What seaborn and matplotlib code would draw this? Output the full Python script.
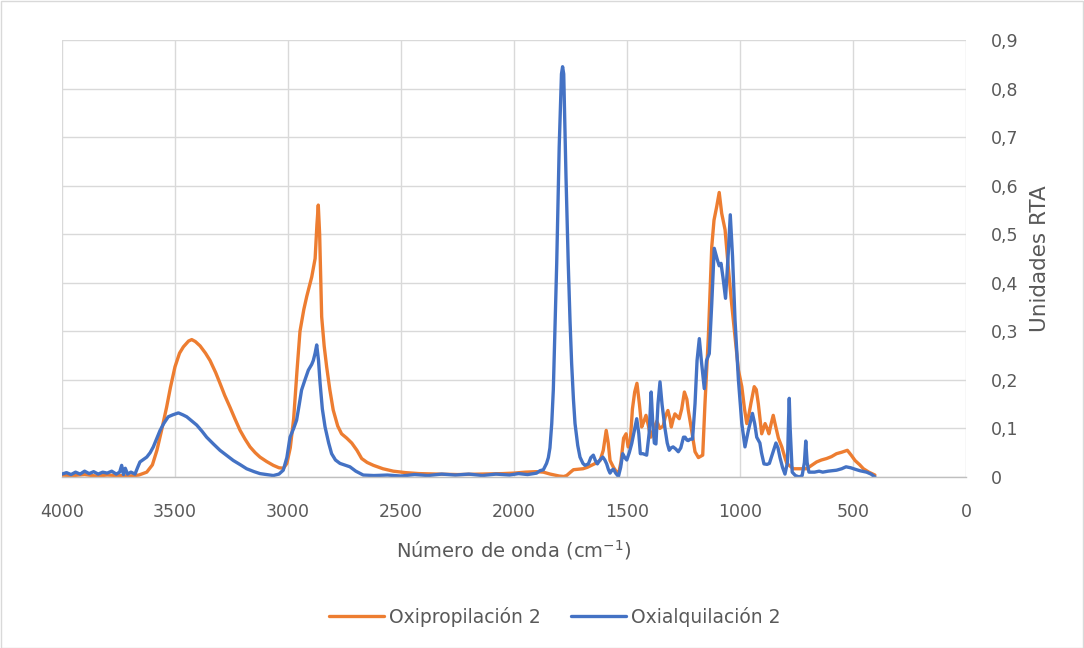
import numpy as np
import pandas as pd
import seaborn as sns
import matplotlib
matplotlib.use("Agg")
import matplotlib.pyplot as plt
from matplotlib.lines import Line2D
from matplotlib.patches import Rectangle

# FTIR spectra (wavenumber in cm-1, absorbance in RTA units)
oxiprop_wn = [4000, 3950, 3900, 3850, 3800, 3750, 3700, 3660, 3625, 3600, 3580, 3560,
              3537, 3520, 3500, 3480, 3463, 3440, 3426, 3410, 3389, 3365, 3345, 3320,
              3301, 3280, 3257, 3235, 3212, 3190, 3168, 3145, 3124, 3095, 3065, 3040,
              3020, 3005, 2990, 2975, 2960, 2947, 2930, 2917, 2895, 2880, 2872, 2866,
              2860, 2851, 2840, 2829, 2815, 2800, 2780, 2763, 2740, 2718, 2695, 2674,
              2650, 2622, 2580, 2534, 2480, 2420, 2327, 2250, 2150, 2050, 2000, 1950,
              1900, 1870, 1840, 1800, 1780, 1767, 1750, 1737, 1715, 1695, 1675, 1658,
              1640, 1619, 1605, 1592, 1583, 1575, 1560, 1546, 1535, 1527, 1515, 1504,
              1495, 1487, 1476, 1466, 1456, 1445, 1435, 1425, 1416, 1405, 1395, 1385,
              1368, 1355, 1340, 1330, 1319, 1310, 1304, 1296, 1288, 1278, 1269, 1258,
              1246, 1235, 1229, 1214, 1199, 1184, 1165, 1155, 1140, 1125, 1115, 1103,
              1092, 1081, 1066, 1052, 1037, 1022, 1007, 992, 980, 970, 960, 952,
              937, 928, 919, 904, 896, 889, 880, 872, 862, 853, 845, 830,
              815, 800, 793, 764, 735, 705, 680, 661, 640, 617, 595, 573,
              550, 525, 508, 491, 470, 454, 430, 403]
oxiprop_abs = [0.004, 0.003, 0.005, 0.002, 0.004, 0.003, 0.002, 0.004, 0.010, 0.025, 0.055, 0.095,
               0.144, 0.185, 0.227, 0.255, 0.268, 0.280, 0.283, 0.279, 0.270, 0.255, 0.240, 0.215,
               0.193, 0.168, 0.144, 0.120, 0.096, 0.078, 0.062, 0.050, 0.041, 0.032, 0.024, 0.019,
               0.018, 0.028, 0.060, 0.120, 0.220, 0.300, 0.345, 0.372, 0.412, 0.450, 0.520, 0.560,
               0.500, 0.330, 0.270, 0.227, 0.180, 0.138, 0.105, 0.089, 0.080, 0.070, 0.055, 0.038,
               0.030, 0.024, 0.017, 0.012, 0.009, 0.007, 0.006, 0.005, 0.006, 0.007, 0.008, 0.010,
               0.011, 0.010, 0.006, 0.002, 0.001, 0.003, 0.010, 0.015, 0.016, 0.017, 0.020, 0.024,
               0.028, 0.034, 0.055, 0.096, 0.070, 0.034, 0.020, 0.010, 0.012, 0.030, 0.080, 0.089,
               0.062, 0.062, 0.140, 0.175, 0.193, 0.150, 0.103, 0.115, 0.127, 0.105, 0.082, 0.095,
               0.115, 0.100, 0.105, 0.125, 0.137, 0.120, 0.103, 0.118, 0.130, 0.125, 0.120, 0.140,
               0.175, 0.160, 0.138, 0.096, 0.052, 0.040, 0.045, 0.151, 0.289, 0.474, 0.529, 0.557,
               0.586, 0.543, 0.509, 0.433, 0.357, 0.289, 0.220, 0.186, 0.140, 0.110, 0.130, 0.151,
               0.186, 0.180, 0.151, 0.089, 0.100, 0.110, 0.100, 0.089, 0.110, 0.127, 0.110, 0.080,
               0.062, 0.038, 0.028, 0.017, 0.017, 0.017, 0.025, 0.031, 0.035, 0.038, 0.042, 0.048,
               0.051, 0.055, 0.045, 0.034, 0.025, 0.017, 0.010, 0.004]

oxialq_wn = [4000, 3980, 3960, 3940, 3920, 3900, 3880, 3860, 3840, 3820, 3800, 3780,
             3760, 3745, 3736, 3728, 3720, 3710, 3695, 3677, 3665, 3655, 3640, 3625,
             3610, 3596, 3580, 3566, 3550, 3530, 3510, 3485, 3465, 3448, 3425, 3404,
             3380, 3360, 3330, 3301, 3270, 3242, 3210, 3183, 3150, 3124, 3095, 3065,
             3040, 3021, 3005, 2991, 2975, 2962, 2950, 2940, 2925, 2910, 2895, 2888,
             2880, 2873, 2865, 2858, 2848, 2836, 2820, 2807, 2790, 2770, 2745, 2726,
             2700, 2667, 2620, 2560, 2500, 2440, 2380, 2320, 2260, 2200, 2140, 2080,
             2020, 1980, 1940, 1900, 1885, 1870, 1856, 1848, 1841, 1833, 1826, 1819,
             1811, 1800, 1790, 1785, 1780, 1770, 1760, 1752, 1745, 1737, 1730, 1718,
             1708, 1695, 1686, 1671, 1660, 1649, 1640, 1631, 1620, 1607, 1598, 1590,
             1582, 1575, 1567, 1560, 1550, 1538, 1528, 1519, 1510, 1501, 1490, 1479,
             1468, 1457, 1448, 1441, 1430, 1413, 1402, 1393, 1386, 1379, 1372, 1363,
             1354, 1345, 1332, 1322, 1313, 1305, 1296, 1285, 1273, 1262, 1250, 1243,
             1235, 1229, 1220, 1210, 1199, 1190, 1180, 1170, 1158, 1148, 1136, 1125,
             1114, 1100, 1092, 1084, 1075, 1064, 1057, 1052, 1043, 1033, 1022, 1007,
             992, 978, 970, 963, 945, 935, 926, 912, 905, 894, 880, 870,
             855, 841, 832, 823, 812, 801, 790, 785, 782, 778, 769, 755,
             738, 725, 715, 709, 703, 695, 670, 650, 634, 610, 590, 573,
             550, 531, 510, 491, 470, 440, 420, 403]
oxialq_abs = [0.006, 0.009, 0.005, 0.010, 0.006, 0.012, 0.007, 0.011, 0.006, 0.010, 0.008, 0.012,
              0.006, 0.010, 0.024, 0.005, 0.018, 0.006, 0.010, 0.006, 0.020, 0.031, 0.036, 0.041,
              0.050, 0.062, 0.080, 0.096, 0.110, 0.124, 0.128, 0.132, 0.128, 0.124, 0.115, 0.107,
              0.094, 0.082, 0.068, 0.055, 0.044, 0.034, 0.025, 0.017, 0.011, 0.007, 0.005, 0.003,
              0.006, 0.014, 0.040, 0.082, 0.100, 0.117, 0.150, 0.179, 0.200, 0.220, 0.232, 0.240,
              0.255, 0.272, 0.240, 0.193, 0.140, 0.103, 0.070, 0.048, 0.035, 0.028, 0.024, 0.021,
              0.012, 0.004, 0.003, 0.004, 0.002, 0.005, 0.003, 0.006, 0.004, 0.006, 0.003, 0.006,
              0.004, 0.007, 0.005, 0.008, 0.013, 0.015, 0.028, 0.040, 0.060, 0.110, 0.180, 0.300,
              0.440, 0.680, 0.830, 0.845, 0.830, 0.620, 0.440, 0.320, 0.234, 0.160, 0.110, 0.065,
              0.041, 0.028, 0.024, 0.027, 0.040, 0.045, 0.034, 0.027, 0.035, 0.041, 0.035, 0.027,
              0.015, 0.008, 0.014, 0.016, 0.008, 0.001, 0.020, 0.048, 0.040, 0.035, 0.050, 0.069,
              0.095, 0.120, 0.090, 0.048, 0.048, 0.045, 0.090, 0.175, 0.110, 0.070, 0.068, 0.150,
              0.196, 0.150, 0.100, 0.070, 0.055, 0.060, 0.062, 0.058, 0.052, 0.060, 0.082, 0.082,
              0.076, 0.075, 0.078, 0.078, 0.151, 0.240, 0.285, 0.235, 0.182, 0.240, 0.254, 0.357,
              0.471, 0.447, 0.435, 0.440, 0.410, 0.368, 0.420, 0.460, 0.540, 0.454, 0.323, 0.200,
              0.110, 0.062, 0.080, 0.096, 0.131, 0.110, 0.082, 0.070, 0.050, 0.027, 0.026, 0.028,
              0.050, 0.070, 0.060, 0.040, 0.020, 0.006, 0.030, 0.120, 0.162, 0.100, 0.010, 0.003,
              0.000, 0.003, 0.030, 0.074, 0.030, 0.010, 0.010, 0.012, 0.010, 0.012, 0.013, 0.014,
              0.017, 0.021, 0.019, 0.016, 0.013, 0.010, 0.006, 0.000]

series_names = ["Oxipropilación 2", "Oxialquilación 2"]
series_colors = ["#ED7D31", "#4472C4"]
y_ticks = [0.0, 0.1, 0.2, 0.3, 0.4, 0.5, 0.6, 0.7, 0.8, 0.9]
x_ticks = [4000, 3500, 3000, 2500, 2000, 1500, 1000, 500, 0]

df = pd.concat([
    pd.DataFrame({"wn": oxiprop_wn, "abs": oxiprop_abs, "serie": series_names[0]}),
    pd.DataFrame({"wn": oxialq_wn, "abs": oxialq_abs, "serie": series_names[1]}),
], ignore_index=True)

sns.set_theme(style="white")
plt.rcParams["font.family"] = ["DejaVu Sans"]
text_color = "#595959"
grid_color = "#D9D9D9"

fig = plt.figure(figsize=(10.84, 6.48), dpi=100)
ax = fig.add_axes([62 / 1084, 1 - 477 / 648, (966 - 62) / 1084, (477 - 40) / 648])

sns.lineplot(data=df, x="wn", y="abs", hue="serie", hue_order=series_names,
             palette=series_colors, linewidth=2.4, sort=False, estimator=None,
             legend=False, ax=ax)

ax.set_xlim(4000, 0)
ax.set_ylim(0, 0.9)
ax.set_xticks(x_ticks)
ax.set_xticklabels([str(t) for t in x_ticks])
ax.set_yticks(y_ticks)
ax.set_yticklabels(["0" if t == 0 else f"{t:.1f}".replace(".", ",") for t in y_ticks])
ax.yaxis.tick_right()
ax.yaxis.set_label_position("right")

ax.grid(True, color=grid_color, linewidth=1.0)
ax.set_axisbelow(True)
for side in ["top", "left", "right"]:
    ax.spines[side].set_visible(False)
ax.spines["bottom"].set_color("#BFBFBF")
ax.spines["bottom"].set_linewidth(1.0)

ax.tick_params(axis="both", length=0, labelsize=12.5, colors=text_color)
ax.tick_params(axis="x", pad=19)
ax.tick_params(axis="y", pad=18)

ax.set_xlabel("Número de onda (cm$^{\\mathregular{-1}}$)", fontsize=14, color=text_color,
              labelpad=12)
ax.set_ylabel("Unidades RTA", fontsize=15.5, color=text_color, labelpad=8)

handles = [Line2D([0], [0], color=c, lw=2.4) for c in series_colors]
fig.legend(handles, series_names, loc="center", bbox_to_anchor=(555 / 1084, 1 - 617 / 648),
           ncol=2, frameon=False, fontsize=13.5, labelcolor=text_color,
           handlelength=2.9, handletextpad=0.3, columnspacing=1.6)

fig.patches.append(Rectangle((0.5 / 1084, 0.5 / 648), 1 - 1.5 / 1084, 1 - 1.5 / 648,
                             transform=fig.transFigure, fill=False,
                             edgecolor=grid_color, linewidth=1.0))

fig.savefig("out.png", dpi=100, facecolor="white")
